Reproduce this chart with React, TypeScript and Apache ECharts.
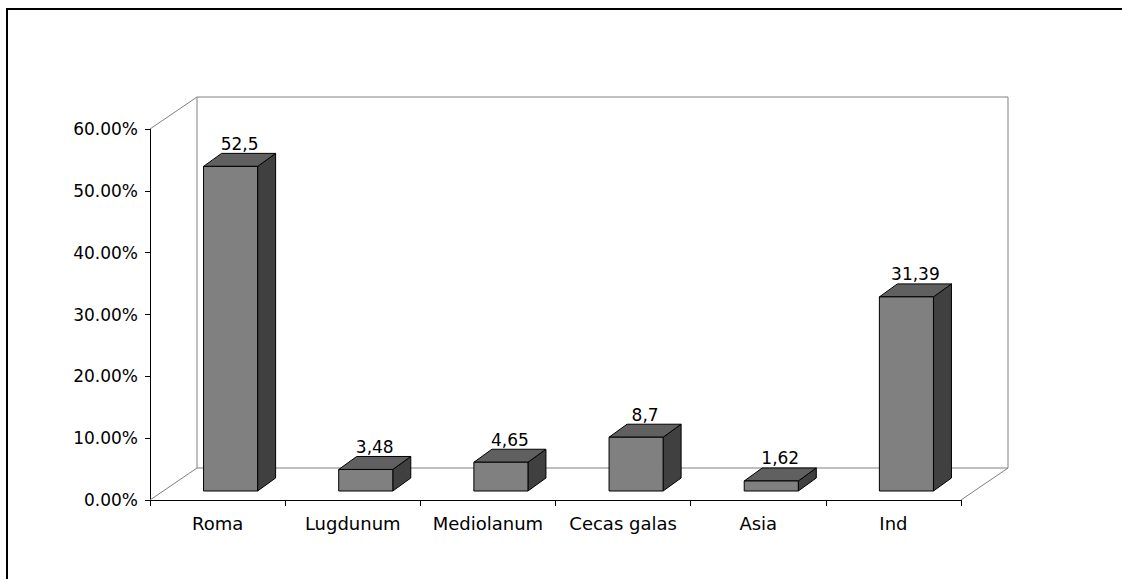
import React, { useEffect, useRef } from "react";
import * as echarts from "echarts";

// Share of finds by place of origin
const categories = ["Roma", "Lugdunum", "Mediolanum", "Cecas galas", "Asia", "Ind"];
const shares = [52.5, 3.48, 4.65, 8.7, 1.62, 31.39];
const yMin = 0;
const yMax = 60;
const yStep = 10;

const FONT = '"DejaVu Sans", "Liberation Sans", sans-serif';

// Oblique 3D projection of the plot box
const DEPTH_X = 47;
const DEPTH_Y = -32;
// Bars sit partway into the box depth
const BAR_SHIFT_X = 13;
const BAR_SHIFT_Y = -9;
const BAR_DEPTH_X = 18;
const BAR_DEPTH_Y = -13;
const BAR_WIDTH_RATIO = 0.4;

const commaDecimal = (v: number) => String(v).replace(".", ",");

export default function App() {
  const ref = useRef<HTMLDivElement>(null);

  useEffect(() => {
    document.body.style.margin = "0";
    document.body.style.overflow = "hidden";
    const chart = echarts.init(ref.current as HTMLDivElement, null, { renderer: "svg" });

    const frameItem = (params: any, api: any) => {
      const band = api.size([1, 0])[0];
      const x0 = api.coord([0, yMin])[0] - band / 2;
      const x1 = api.coord([categories.length - 1, yMin])[0] + band / 2;
      const yb = api.coord([0, yMin])[1];
      const yt = api.coord([0, yMax])[1];
      const wall = { stroke: "#808080", lineWidth: 1, fill: "none" };
      const seg = (a: number[], b: number[]) => ({
        type: "line",
        shape: { x1: a[0], y1: a[1], x2: b[0], y2: b[1] },
        style: wall,
      });
      const bx0 = x0 + DEPTH_X;
      const bx1 = x1 + DEPTH_X;
      const byb = yb + DEPTH_Y;
      const byt = yt + DEPTH_Y;
      return {
        type: "group",
        children: [
          seg([bx0, byt], [bx1, byt]),
          seg([bx0, byt], [bx0, byb]),
          seg([bx1, byt], [bx1, byb]),
          seg([bx0, byb], [bx1, byb]),
          seg([x0, yt], [bx0, byt]),
          seg([x0, yb], [bx0, byb]),
          seg([x1, yb], [bx1, byb]),
        ],
      };
    };

    const barItem = (params: any, api: any) => {
      const i = api.value(0);
      const v = api.value(1);
      const top = api.coord([i, v]);
      const base = api.coord([i, yMin]);
      const bw = api.size([1, 0])[0] * BAR_WIDTH_RATIO;
      const xl = top[0] + BAR_SHIFT_X - bw / 2;
      const xr = xl + bw;
      const yt = top[1] + BAR_SHIFT_Y;
      const yb = base[1] + BAR_SHIFT_Y;
      const edge = { stroke: "#000000", lineWidth: 1 };
      return {
        type: "group",
        children: [
          {
            type: "polygon",
            shape: {
              points: [
                [xr, yb],
                [xr + BAR_DEPTH_X, yb + BAR_DEPTH_Y],
                [xr + BAR_DEPTH_X, yt + BAR_DEPTH_Y],
                [xr, yt],
              ],
            },
            style: { fill: "#404040", ...edge },
          },
          {
            type: "polygon",
            shape: {
              points: [
                [xl, yt],
                [xl + BAR_DEPTH_X, yt + BAR_DEPTH_Y],
                [xr + BAR_DEPTH_X, yt + BAR_DEPTH_Y],
                [xr, yt],
              ],
            },
            style: { fill: "#606060", ...edge },
          },
          {
            type: "rect",
            shape: { x: xl, y: yt, width: bw, height: yb - yt },
            style: { fill: "#808080", ...edge },
          },
          {
            type: "text",
            x: (xl + xr) / 2 + BAR_DEPTH_X / 2,
            y: yt + BAR_DEPTH_Y - 1,
            style: {
              text: commaDecimal(v),
              fill: "#000000",
              fontSize: 17,
              fontFamily: FONT,
              align: "center",
              verticalAlign: "bottom",
            },
          },
        ],
      };
    };

    chart.setOption({
      animation: false,
      backgroundColor: "#ffffff",
      grid: { left: 150, top: 129, width: 811, height: 371, containLabel: false },
      xAxis: {
        type: "category",
        data: categories,
        axisLine: { show: true, lineStyle: { color: "#000000", width: 1 } },
        axisTick: { show: true, interval: 0, length: 6, lineStyle: { color: "#000000" } },
        axisLabel: { interval: 0, color: "#000000", fontFamily: FONT, fontSize: 18, margin: 14 },
        splitLine: { show: false },
      },
      yAxis: {
        type: "value",
        min: yMin,
        max: yMax,
        interval: yStep,
        axisLine: { show: true, lineStyle: { color: "#000000", width: 1 } },
        axisTick: { show: true, length: 5, lineStyle: { color: "#000000" } },
        axisLabel: {
          color: "#000000",
          fontFamily: FONT,
          fontSize: 17,
          margin: 12,
          formatter: (v: number) => v.toFixed(2) + "%",
        },
        splitLine: { show: false },
      },
      series: [
        {
          type: "custom",
          name: "frame",
          z: 1,
          silent: true,
          renderItem: frameItem,
          data: [[0, yMin]],
        },
        {
          type: "custom",
          name: "shares",
          z: 3,
          renderItem: barItem,
          data: shares.map((v, i) => [i, v]),
        },
      ],
      graphic: [
        // page border along the top and left edges
        {
          type: "line",
          silent: true,
          shape: { x1: 6, y1: 9, x2: 1122, y2: 9 },
          style: { stroke: "#000000", lineWidth: 2 },
        },
        {
          type: "line",
          silent: true,
          shape: { x1: 7, y1: 8, x2: 7, y2: 579 },
          style: { stroke: "#000000", lineWidth: 2 },
        },
      ],
    });

    return () => chart.dispose();
  }, []);

  return <div ref={ref} style={{ width: 1122, height: 579 }} />;
}
